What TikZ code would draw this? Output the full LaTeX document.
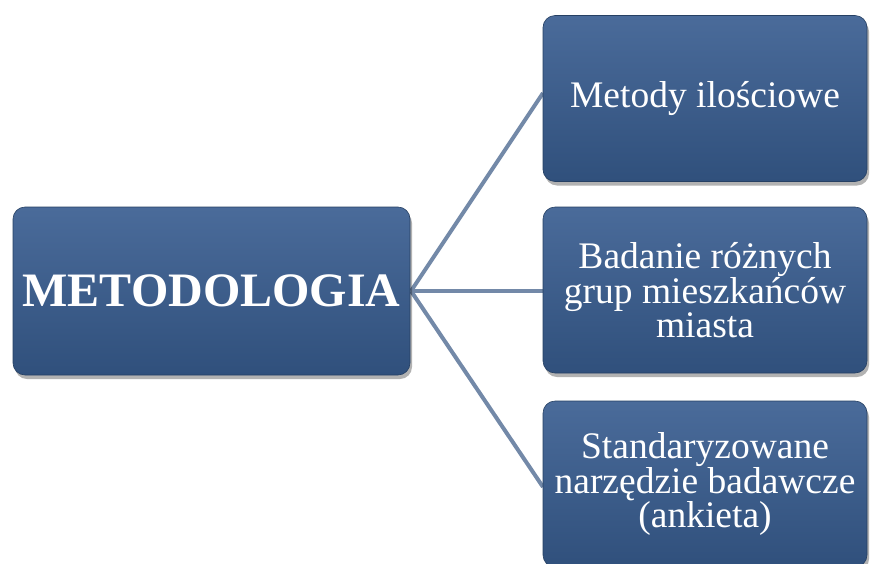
\documentclass[tikz,border=0pt]{standalone}
\usepackage{fontspec}
\setmainfont{Liberation Serif}
\usetikzlibrary{shadows}
\definecolor{boxtop}{HTML}{4A6B9A}
\definecolor{boxbot}{HTML}{30507C}
\definecolor{linkcol}{HTML}{7389A8}
\tikzset{
  boxnode/.style={rounded corners=12pt, top color=boxtop, bottom color=boxbot,
    draw=boxbot!80!black, line width=0.6pt, text=white, align=center,
    drop shadow={shadow xshift=2pt, shadow yshift=-4pt, opacity=0.3, fill=black}},
  leafbox/.style={boxnode, minimum width=324pt, minimum height=166pt,
    font=\fontsize{37.5}{34}\selectfont},
  rootbox/.style={boxnode, minimum width=397pt, minimum height=168pt,
    font=\fontsize{48}{50}\selectfont\bfseries},
  link/.style={draw=linkcol, line width=4pt}
}
\begin{document}
\begin{tikzpicture}[x=1pt, y=-1pt]
\useasboundingbox (0,0) rectangle (871,563);
\coordinate (l1) at (543,93);
\coordinate (l3) at (543,487);
\coordinate (rootpt) at (411,291);
\coordinate (l2) at (543,291);
\draw[link] (rootpt) -- (l1);
\draw[link] (rootpt) -- (l2);
\draw[link] (rootpt) -- (l3);
\node[rootbox] (root) at (211.5,291) {METODOLOGIA};
\node[leafbox] (b1) at (705,98.5) {Metody ilościowe};
\node[leafbox] (b2) at (705,290) {Badanie różnych\\grup mieszkańców\\miasta};
\node[leafbox] (b3) at (705,484) {Standaryzowane\\narzędzie badawcze\\(ankieta)};
\end{tikzpicture}
\end{document}
